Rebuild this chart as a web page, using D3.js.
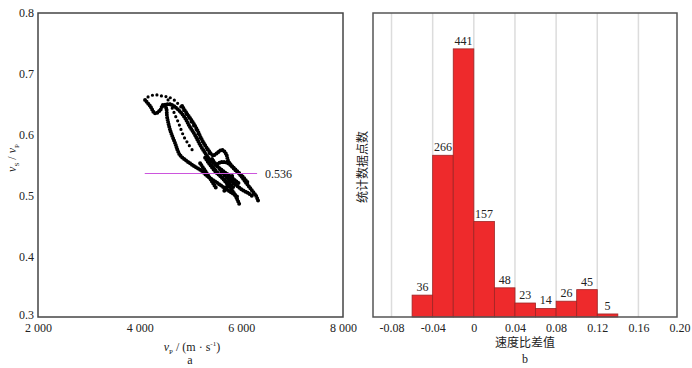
<!DOCTYPE html>
<html>
<head>
<meta charset="utf-8">
<script src="https://cdn.jsdelivr.net/npm/d3@7"></script>
<style>
  body { margin: 0; background: #fff; }
  svg text { font-family: "Liberation Serif", "DejaVu Serif", serif; fill: #222; }
  .cjk { font-family: "Noto Sans CJK SC", sans-serif; }
</style>
</head>
<body>
<svg id="chart" width="692" height="368"></svg>
<script>
const trackOuter = [[4106,0.657],[4205,0.647],[4303,0.635],[4402,0.640],[4461,0.649],[4520,0.644],
  [4539,0.629],[4598,0.608],[4697,0.586],[4795,0.566],[4953,0.555],[5091,0.547],[5228,0.540],
  [5327,0.532],[5465,0.524],[5622,0.515],[5780,0.506],[5937,0.497]];
const trackLoop = [[4500,0.649],[4598,0.650],[4717,0.644],[4815,0.636],[4894,0.627],[4992,0.612],
  [5091,0.599],[5189,0.583],[5287,0.570],[5386,0.558],[5484,0.552]];
const trackInner = [[4559,0.657],[4638,0.644],[4697,0.632],[4756,0.621],[4815,0.608],[4874,0.596],
  [4953,0.585],[5032,0.575]];
const trackTop = [[4165,0.662],[4264,0.665],[4362,0.665],[4461,0.663],[4559,0.662],[4677,0.657],
  [4795,0.647],[4894,0.637],[4972,0.627],[5051,0.616],[5130,0.606],[5189,0.594],[5268,0.585],
  [5327,0.575],[5406,0.565]];
const trackRight = [[4835,0.647],[4933,0.634],[5032,0.622],[5130,0.608],[5228,0.591],[5346,0.575],
  [5445,0.566],[5543,0.571],[5622,0.575],[5701,0.568],[5740,0.557],[5819,0.548],[5937,0.538],
  [6055,0.525],[6173,0.512],[6291,0.499],[6331,0.491]];
const trackBlob1 = [[5287,0.562],[5386,0.550],[5504,0.538],[5622,0.529],[5740,0.517],[5839,0.506],
  [5917,0.494],[5957,0.486]];
const trackBlob2 = [[5189,0.553],[5307,0.538],[5406,0.525],[5504,0.512]];
const trackBlob3 = [[5484,0.550],[5622,0.555],[5740,0.553],[5878,0.542],[6016,0.532],[6134,0.520]];
const trackBlob4 = [[5583,0.542],[5681,0.532],[5780,0.525],[5898,0.517],[6016,0.509],[6134,0.504],[6213,0.499]];
const trackBlob5 = [[5346,0.556],[5445,0.546],[5543,0.536],[5661,0.526],[5760,0.520],[5858,0.512]];
const trackBlob6 = [[5425,0.560],[5524,0.548],[5642,0.540],[5740,0.534],[5858,0.526],[5976,0.518]];
const trackBlob7 = [[5819,0.532],[5760,0.522],[5701,0.512],[5642,0.505]];
const meanRatio = 0.536;
const meanRange = [4100, 6310];
const aXTicks = [2000, 4000, 6000, 8000];
const aYTicks = [0.3, 0.4, 0.5, 0.6, 0.7, 0.8];

// ---- panel b: histogram of the ratio difference
const binStarts = [-0.06, -0.04, -0.02, 0, 0.02, 0.04, 0.06, 0.08, 0.10, 0.12];
const binCounts = [36, 266, 441, 157, 48, 23, 14, 26, 45, 5];
const binWidth = 0.02;
const bXTicks = [-0.08, -0.04, 0, 0.04, 0.08, 0.12, 0.16, 0.20];
const bXTickLabels = ["-0.08", "-0.04", "0", "0.04", "0.08", "0.12", "0.16", "0.20"];

const svg = d3.select("#chart");

// ===== panel a =====
const ax = d3.scaleLinear().domain([2000, 8000]).range([38, 343]);
const ay = d3.scaleLinear().domain([0.3, 0.8]).range([317, 13]);

svg.append("g")
  .attr("transform", "translate(0,317)")
  .call(d3.axisBottom(ax).tickValues(aXTicks).tickSize(0).tickPadding(6)
    .tickFormat(d => d3.format(",")(d).replace(",", " ")))
  .call(g => g.select(".domain").remove())
  .selectAll("text").attr("font-size", 12).attr("font-family", "Liberation Serif").attr("fill", "#222");

svg.append("g")
  .attr("transform", "translate(38,0)")
  .call(d3.axisLeft(ay).tickValues(aYTicks).tickSize(0).tickPadding(4).tickFormat(d3.format(".1f")))
  .call(g => g.select(".domain").remove())
  .call(g => g.selectAll(".tick text").attr("dy", (d, i) => i === 0 ? "0.15em" : "0.32em"))
  .selectAll("text").attr("font-size", 12).attr("font-family", "Liberation Serif").attr("fill", "#222");

const tracks = [trackOuter, trackLoop, trackInner, trackTop, trackRight,
  trackBlob1, trackBlob2, trackBlob3, trackBlob4, trackBlob5, trackBlob6, trackBlob7];
const dense = [true, true, false, false, true, true, true, true, true, true, true, true];
const line = d3.line().x(d => ax(d[0])).y(d => ay(d[1])).curve(d3.curveCatmullRom);

tracks.forEach((t, i) => {
  svg.append("path")
    .attr("d", line(t))
    .attr("fill", "none")
    .attr("stroke", "#000")
    .attr("stroke-linecap", "round")
    .attr("stroke-width", dense[i] ? 4 : 3.2)
    .attr("stroke-dasharray", dense[i] ? "0 2.4" : "0 4.6");
});

svg.append("line")
  .attr("x1", ax(meanRange[0])).attr("x2", ax(meanRange[1]))
  .attr("y1", ay(meanRatio)).attr("y2", ay(meanRatio))
  .attr("stroke", "#cc55dd").attr("stroke-width", 1.2);

svg.append("text")
  .attr("x", ax(meanRange[1]) + 8).attr("y", ay(meanRatio))
  .attr("dy", "0.35em").attr("font-size", 12)
  .text(meanRatio.toFixed(3));

svg.append("rect")
  .attr("x", 38).attr("y", 13).attr("width", 305).attr("height", 304)
  .attr("fill", "none").attr("stroke", "#444").attr("stroke-width", 1.5);

// axis titles a
const xTitleA = svg.append("text").attr("x", 192).attr("y", 351)
  .attr("text-anchor", "middle").attr("font-size", 12);
xTitleA.append("tspan").attr("font-style", "italic").text("v");
xTitleA.append("tspan").attr("font-size", 7).attr("dy", 3).text("P");
xTitleA.append("tspan").attr("dy", -3).text(" / (m · s");
xTitleA.append("tspan").attr("font-size", 7).attr("dy", -5).text("-1");
xTitleA.append("tspan").attr("dy", 5).text(")");

svg.append("text").attr("x", 190).attr("y", 364).attr("text-anchor", "middle")
  .attr("font-size", 12).text("a");

const yTitleA = svg.append("text")
  .attr("transform", "translate(16,158) rotate(-90)")
  .attr("text-anchor", "middle").attr("font-size", 12);
yTitleA.append("tspan").attr("font-style", "italic").text("v");
yTitleA.append("tspan").attr("font-size", 7).attr("dy", 3).text("S");
yTitleA.append("tspan").attr("dy", -3).text(" / ");
yTitleA.append("tspan").attr("font-style", "italic").text("v");
yTitleA.append("tspan").attr("font-size", 7).attr("dy", 3).text("P");

// ===== panel b =====
const bx = d3.scaleLinear().domain([-0.098, 0.1975]).range([373, 677]);
const by = d3.scaleLinear().domain([0, 500]).range([317, 13]);

svg.append("g").selectAll("line")
  .data(bXTicks.filter(v => bx(v) < 676))
  .join("line")
  .attr("x1", d => bx(d)).attr("x2", d => bx(d))
  .attr("y1", 13).attr("y2", 317)
  .attr("stroke", "#dcdcdc").attr("stroke-width", 1.5);

svg.append("g").selectAll("rect")
  .data(binStarts)
  .join("rect")
  .attr("x", d => bx(d))
  .attr("width", d => bx(d + binWidth) - bx(d))
  .attr("y", (d, i) => by(binCounts[i]))
  .attr("height", (d, i) => by(0) - by(binCounts[i]))
  .attr("fill", "#ee2a2c")
  .attr("stroke", "#9e2424")
  .attr("stroke-width", 0.8);

svg.append("g").selectAll("text")
  .data(binStarts)
  .join("text")
  .attr("x", d => bx(d + binWidth / 2))
  .attr("y", (d, i) => by(binCounts[i]) - 4)
  .attr("text-anchor", "middle")
  .attr("font-size", 12)
  .text((d, i) => binCounts[i]);

svg.append("g")
  .attr("transform", "translate(0,317)")
  .call(d3.axisBottom(bx).tickValues(bXTicks).tickSize(0).tickPadding(6)
    .tickFormat((d, i) => bXTickLabels[i]))
  .call(g => g.select(".domain").remove())
  .selectAll("text").attr("font-size", 12).attr("font-family", "Liberation Serif").attr("fill", "#222");

svg.append("rect")
  .attr("x", 373).attr("y", 13).attr("width", 304).attr("height", 304)
  .attr("fill", "none").attr("stroke", "#555").attr("stroke-width", 1.5);

svg.append("text").attr("class", "cjk").attr("x", 525).attr("y", 347)
  .attr("text-anchor", "middle").attr("font-size", 12).text("速度比差值");
svg.append("text").attr("x", 525).attr("y", 363).attr("text-anchor", "middle")
  .attr("font-size", 12).text("b");
svg.append("text").attr("class", "cjk")
  .attr("transform", "translate(367,167) rotate(-90)")
  .attr("text-anchor", "middle").attr("font-size", 12).text("统计数据点数");
</script>
</body>
</html>
